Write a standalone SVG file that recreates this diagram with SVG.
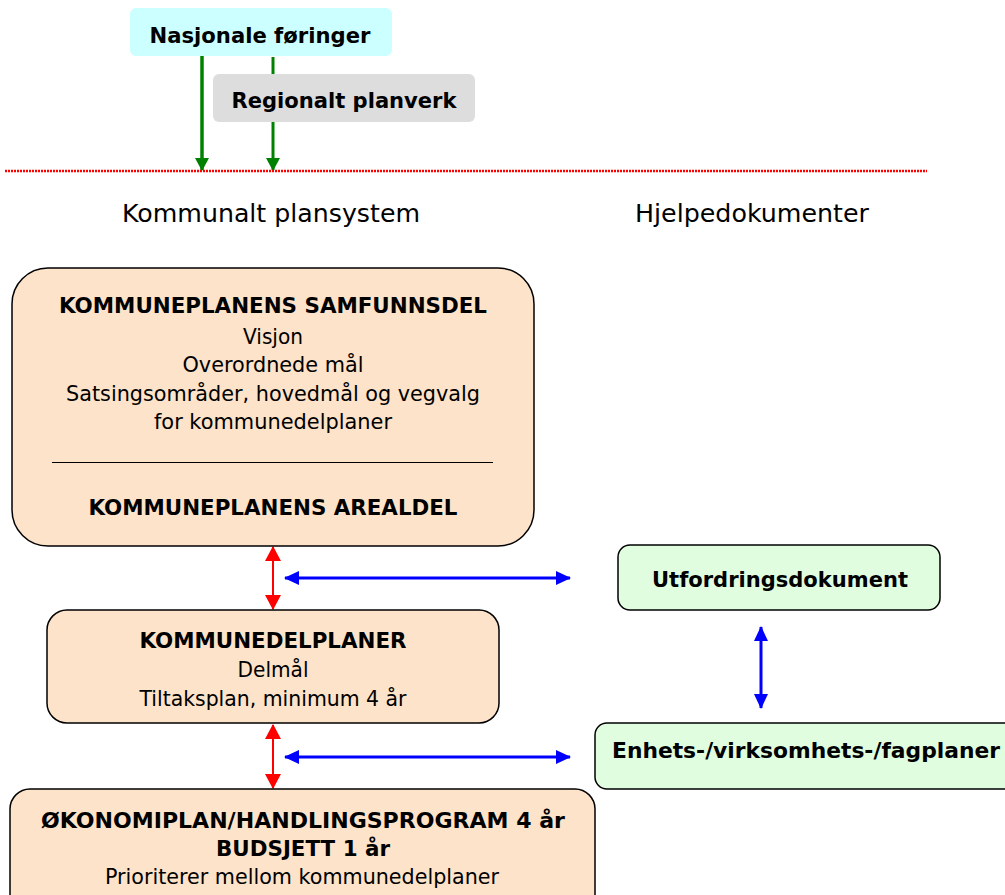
<svg xmlns="http://www.w3.org/2000/svg" width="1005" height="895" viewBox="0 0 1005 895">
<style>
text{font-family:"DejaVu Sans","Verdana",sans-serif;fill:#000;text-anchor:middle}
.b{font-weight:bold;font-size:21.3px}
.n{font-size:20.7px}
.h{font-size:25.4px}
.peach{fill:#fde3c9;stroke:#000;stroke-width:1.5}
.green{fill:#e0fde0;stroke:#000;stroke-width:1.5}
</style>
<defs>
<marker id="ag" markerWidth="13" markerHeight="14" refX="12" refY="7" orient="auto" markerUnits="userSpaceOnUse"><path d="M0,0 L13,7 L0,14 z" fill="#008000"/></marker>
<marker id="ar" markerWidth="15" markerHeight="16" refX="14" refY="8" orient="auto-start-reverse" markerUnits="userSpaceOnUse"><path d="M0,0 L15,8 L0,16 z" fill="#ff0000"/></marker>
<marker id="ab" markerWidth="15" markerHeight="14" refX="14" refY="7" orient="auto-start-reverse" markerUnits="userSpaceOnUse"><path d="M0,0 L15,7 L0,14 z" fill="#0000ff"/></marker>
</defs>

<g id="connectors">
<line x1="202" y1="56" x2="202" y2="170" stroke="#008000" stroke-width="3.5" marker-end="url(#ag)"/>
<line x1="273" y1="57" x2="273" y2="170" stroke="#008000" stroke-width="3" marker-end="url(#ag)"/>
<line x1="5" y1="171" x2="927" y2="171" stroke="#ff0000" stroke-width="2.5" stroke-dasharray="2 1"/>
<line x1="273" y1="547" x2="273" y2="609" stroke="#ff0000" stroke-width="2" marker-start="url(#ar)" marker-end="url(#ar)"/>
<line x1="273" y1="725" x2="273" y2="788" stroke="#ff0000" stroke-width="2" marker-start="url(#ar)" marker-end="url(#ar)"/>
<line x1="285" y1="578" x2="570" y2="578" stroke="#0000ff" stroke-width="3" marker-start="url(#ab)" marker-end="url(#ab)"/>
<line x1="285" y1="757" x2="570" y2="757" stroke="#0000ff" stroke-width="3" marker-start="url(#ab)" marker-end="url(#ab)"/>
<line x1="761" y1="627" x2="761" y2="708" stroke="#0000ff" stroke-width="3" marker-start="url(#ab)" marker-end="url(#ab)"/>
</g>

<g id="nasjonale">
<rect x="130" y="8" width="262" height="48" rx="6" fill="#ccffff"/>
<text x="260" y="43" class="b" textLength="221" lengthAdjust="spacingAndGlyphs">Nasjonale føringer</text>
</g>
<g id="regionalt">
<rect x="213" y="74" width="262" height="48" rx="6" fill="#dddddd"/>
<text x="344" y="108" class="b" textLength="225" lengthAdjust="spacingAndGlyphs">Regionalt planverk</text>
</g>

<g id="heading-left"><text x="271" y="222" class="h" textLength="298" lengthAdjust="spacingAndGlyphs">Kommunalt plansystem</text></g>
<g id="heading-right"><text x="752" y="222" class="h" textLength="234" lengthAdjust="spacingAndGlyphs">Hjelpedokumenter</text></g>

<g id="kommuneplan">
<rect x="12" y="268" width="522" height="278" rx="36" class="peach"/>
<text x="273" y="313" class="b" textLength="428" lengthAdjust="spacingAndGlyphs">KOMMUNEPLANENS SAMFUNNSDEL</text>
<text x="273" y="344" class="n" textLength="60" lengthAdjust="spacingAndGlyphs">Visjon</text>
<text x="273" y="372" class="n" textLength="181" lengthAdjust="spacingAndGlyphs">Overordnede mål</text>
<text x="273" y="401" class="n" textLength="414" lengthAdjust="spacingAndGlyphs">Satsingsområder, hovedmål og vegvalg</text>
<text x="273" y="429" class="n" textLength="238" lengthAdjust="spacingAndGlyphs">for kommunedelplaner</text>
<line x1="52" y1="462.5" x2="493" y2="462.5" stroke="#000" stroke-width="1.2"/>
<text x="273" y="515" class="b" textLength="369" lengthAdjust="spacingAndGlyphs">KOMMUNEPLANENS AREALDEL</text>
</g>

<g id="kommunedelplaner">
<rect x="47" y="610" width="452" height="113" rx="20" class="peach"/>
<text x="273" y="648" class="b" textLength="267" lengthAdjust="spacingAndGlyphs">KOMMUNEDELPLANER</text>
<text x="273" y="677" class="n" textLength="71" lengthAdjust="spacingAndGlyphs">Delmål</text>
<text x="273" y="706" class="n" textLength="267" lengthAdjust="spacingAndGlyphs">Tiltaksplan, minimum 4 år</text>
</g>

<g id="okonomiplan">
<rect x="10" y="789" width="585" height="130" rx="20" class="peach"/>
<text x="303" y="828" class="b" textLength="524" lengthAdjust="spacingAndGlyphs">ØKONOMIPLAN/HANDLINGSPROGRAM 4 år</text>
<text x="303" y="856" class="b" textLength="174" lengthAdjust="spacingAndGlyphs">BUDSJETT 1 år</text>
<text x="302" y="884" class="n" textLength="394" lengthAdjust="spacingAndGlyphs">Prioriterer mellom kommunedelplaner</text>
</g>

<g id="utfordring">
<rect x="618" y="545" width="322" height="65" rx="12" class="green"/>
<text x="780" y="587" class="b" textLength="256" lengthAdjust="spacingAndGlyphs">Utfordringsdokument</text>
</g>

<g id="enhets">
<rect x="595" y="723" width="430" height="66" rx="12" class="green"/>
<text x="806" y="758" class="b" textLength="388" lengthAdjust="spacingAndGlyphs">Enhets-/virksomhets-/fagplaner</text>
</g>
</svg>
